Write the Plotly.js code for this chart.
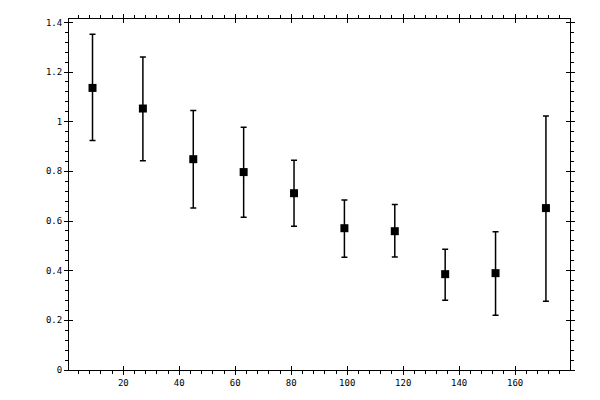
<!DOCTYPE html>
<html>
<head>
<meta charset="utf-8">
<script src="https://cdn.plot.ly/plotly-3.0.1.min.js"></script>
<style>html,body{margin:0;padding:0;background:#fff;}#chart{width:600px;height:400px;}</style>
</head>
<body>
<div id="chart"></div>
<script>
const xValues = [9, 27, 45, 63, 81, 99, 117, 135, 153, 171];
const yValues = [1.136, 1.053, 0.849, 0.797, 0.712, 0.571, 0.559, 0.386, 0.390, 0.652];
const yUpper  = [1.352, 1.260, 1.045, 0.978, 0.845, 0.685, 0.666, 0.486, 0.557, 1.023];
const yLower  = [0.924, 0.843, 0.652, 0.615, 0.579, 0.454, 0.455, 0.281, 0.220, 0.277];

const errPlus = yValues.map((v, i) => yUpper[i] - v);
const errMinus = yValues.map((v, i) => v - yLower[i]);

const tickFont = {family: 'DejaVu Sans Mono, monospace', size: 9, color: '#000'};

const data = [
  {
    x: xValues, y: yValues, type: 'scatter', mode: 'markers',
    marker: {symbol: 'square', size: 8, color: '#000'},
    error_y: {type: 'data', symmetric: false, array: errPlus, arrayminus: errMinus,
              color: '#000', thickness: 1.5, width: 3},
    showlegend: false, hoverinfo: 'x+y'
  },
  {x: [], y: [], xaxis: 'x2', yaxis: 'y2', type: 'scatter', mode: 'markers', showlegend: false, hoverinfo: 'skip'}
];

const layout = {
  width: 600, height: 400,
  margin: {l: 69, r: 30, t: 19, b: 30},
  paper_bgcolor: '#fff', plot_bgcolor: '#fff',
  showlegend: false,
  xaxis: {
    range: [0.6, 179.6], tick0: 0, dtick: 20,
    ticks: 'outside', ticklen: 4, tickwidth: 1, tickcolor: '#000',
    minor: {dtick: 4, tick0: 0, ticks: 'outside', ticklen: 3, tickwidth: 1, tickcolor: '#000', showgrid: false},
    showline: true, linecolor: '#000', linewidth: 1, mirror: 'allticks',
    showgrid: false, zeroline: false, tickfont: tickFont
  },
  yaxis: {
    range: [0, 1.4135], tick0: 0, dtick: 0.2,
    ticks: 'outside', ticklen: 4, tickwidth: 1, tickcolor: '#000',
    minor: {dtick: 0.04, tick0: 0, ticks: 'outside', ticklen: 3, tickwidth: 1, tickcolor: '#000', showgrid: false},
    showline: true, linecolor: '#000', linewidth: 1, mirror: 'allticks',
    showgrid: false, zeroline: false, tickfont: tickFont
  },
  xaxis2: {
    overlaying: 'x', matches: 'x', anchor: 'y', side: 'bottom',
    tick0: 0, dtick: 20, ticks: 'inside', ticklen: 4, tickwidth: 1, tickcolor: '#000',
    mirror: 'allticks', showline: false, showgrid: false, zeroline: false, showticklabels: false
  },
  yaxis2: {
    overlaying: 'y', matches: 'y', anchor: 'x', side: 'left',
    tick0: 0, dtick: 0.2, ticks: 'inside', ticklen: 4, tickwidth: 1, tickcolor: '#000',
    mirror: 'allticks', showline: false, showgrid: false, zeroline: false, showticklabels: false
  }
};

Plotly.newPlot('chart', data, layout, {displayModeBar: false, staticPlot: true});
</script>
</body>
</html>
